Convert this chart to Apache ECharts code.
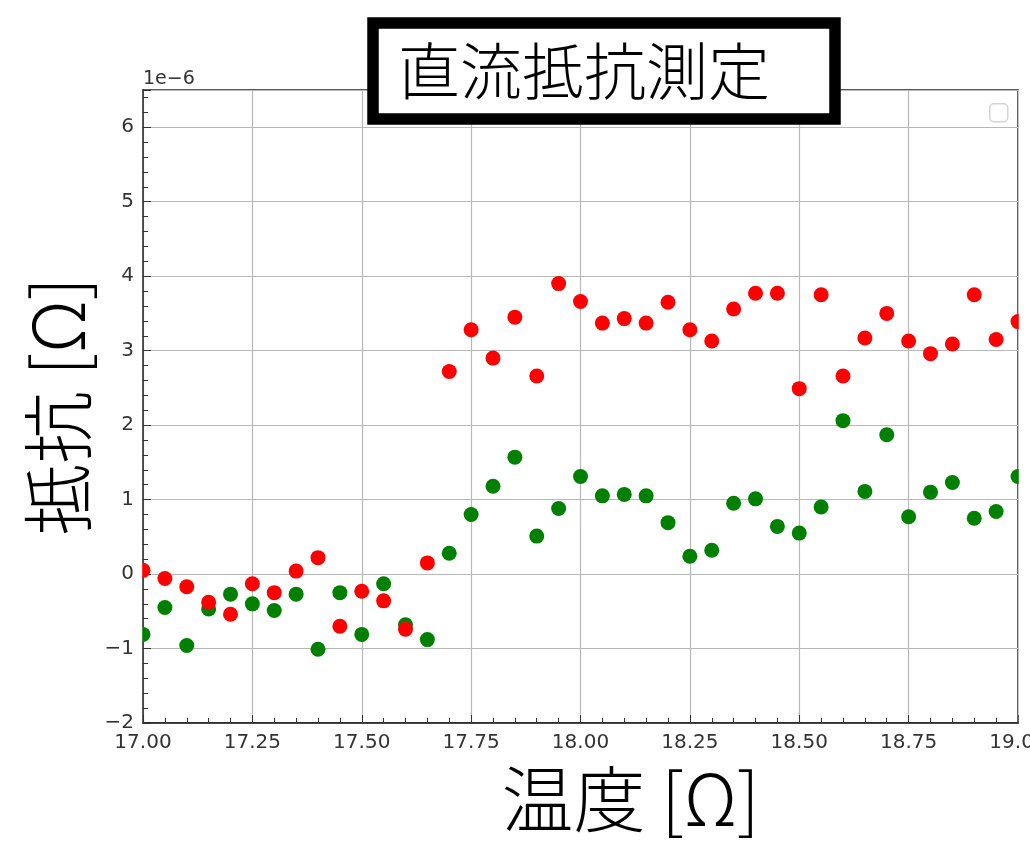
<!DOCTYPE html>
<html>
<head>
<meta charset="utf-8">
<script src="https://cdn.jsdelivr.net/npm/echarts@6/dist/echarts.min.js"></script>
<style>
  html, body { margin: 0; padding: 0; background: #fff; }
  #chart { width: 1030px; height: 846px; }
</style>
</head>
<body>
<div id="chart"></div>
<script>
// 温度 (x) と 抵抗 (y, 単位 1e-6)
var temps = [17.00, 17.05, 17.10, 17.15, 17.20, 17.25, 17.30, 17.35, 17.40, 17.45,
             17.50, 17.55, 17.60, 17.65, 17.70, 17.75, 17.80, 17.85, 17.90, 17.95,
             18.00, 18.05, 18.10, 18.15, 18.20, 18.25, 18.30, 18.35, 18.40, 18.45,
             18.50, 18.55, 18.60, 18.65, 18.70, 18.75, 18.80, 18.85, 18.90, 18.95,
             19.00];
var greenVals = [-0.81, -0.45, -0.96, -0.47, -0.27, -0.40, -0.49, -0.27, -1.01, -0.25,
                 -0.81, -0.13, -0.68, -0.88, 0.28, 0.80, 1.18, 1.57, 0.51, 0.88,
                 1.31, 1.05, 1.07, 1.05, 0.69, 0.24, 0.32, 0.95, 1.01, 0.64,
                 0.55, 0.90, 2.06, 1.11, 1.87, 0.77, 1.10, 1.23, 0.75, 0.84,
                 1.31];
var redVals = [0.05, -0.06, -0.17, -0.38, -0.54, -0.13, -0.25, 0.04, 0.22, -0.70,
               -0.23, -0.36, -0.74, 0.15, 2.72, 3.28, 2.90, 3.45, 2.66, 3.90,
               3.66, 3.37, 3.43, 3.37, 3.65, 3.28, 3.13, 3.56, 3.77, 3.77,
               2.49, 3.75, 2.66, 3.17, 3.50, 3.13, 2.96, 3.09, 3.75, 3.15,
               3.39];
var titleText = '直流抵抗測定';
var xName = '温度 [Ω]';
var yName = '抵抗 [Ω]';
var offsetText = '1e\u22126';

function pairs(xs, ys) {
    return xs.map(function (x, i) { return [x, ys[i]]; });
}

var cjk = '"Noto Sans CJK JP", "Noto Sans CJK SC", sans-serif';
var tickFont = '"DejaVu Sans", sans-serif';

// プロット領域 (px)
var gLeft = 143, gRight = 12, gTop = 90, gBottom = 123;

var chart = echarts.init(document.getElementById('chart'));
chart.setOption({
    animation: false,
    backgroundColor: '#fff',
    title: {
        text: titleText,
        left: 373,
        top: 23,
        padding: [17, 65, 17, 25],
        backgroundColor: '#fff',
        borderColor: '#000',
        borderWidth: 11.5,
        textStyle: {
            fontFamily: cjk,
            fontSize: 62,
            fontWeight: 300,
            color: '#000'
        },
        z: 10
    },
    grid: {
        left: gLeft,
        right: gRight,
        top: gTop,
        bottom: gBottom,
        outerBoundsMode: 'none',
        containLabel: false,
        show: true,
        borderColor: '#222',
        borderWidth: 1.5,
        backgroundColor: '#fff'
    },
    xAxis: {
        type: 'value',
        min: 17,
        max: 19,
        interval: 0.25,
        name: xName,
        nameLocation: 'middle',
        nameGap: 40,
        nameTextStyle: {
            fontFamily: cjk,
            fontSize: 72,
            fontWeight: 300,
            color: '#000',
            padding: [0, 0, 0, 100]
        },
        axisLine: { onZero: false, lineStyle: { color: '#222', width: 1.5 } },
        axisTick: { inside: true, length: 8, lineStyle: { color: '#333' } },
        minorTick: { show: true, splitNumber: 5, length: 5, lineStyle: { color: '#333' } },
        axisLabel: {
            margin: 10,
            fontFamily: tickFont,
            fontSize: 20,
            color: '#333',
            formatter: function (v) { return v.toFixed(2); }
        },
        splitLine: { show: true, lineStyle: { color: '#b8b8b8', width: 1.2 } }
    },
    yAxis: {
        type: 'value',
        min: -2,
        max: 6.5,
        interval: 1,
        name: yName,
        nameLocation: 'middle',
        nameGap: 25,
        nameTextStyle: {
            fontFamily: cjk,
            fontSize: 72,
            fontWeight: 300,
            color: '#000'
        },
        axisLine: { onZero: false, lineStyle: { color: '#222', width: 1.5 } },
        axisTick: { inside: true, length: 8, lineStyle: { color: '#333' } },
        minorTick: { show: true, splitNumber: 5, length: 5, lineStyle: { color: '#333' } },
        axisLabel: {
            margin: 9,
            fontFamily: tickFont,
            fontSize: 20,
            color: '#333',
            showMaxLabel: false,
            formatter: function (v) { return String(v).replace('-', '\u2212'); }
        },
        splitLine: { show: true, lineStyle: { color: '#b8b8b8', width: 1.2 } }
    },
    graphic: [
        {
            type: 'text',
            left: 143,
            top: 70,
            style: { text: offsetText, font: '19px "DejaVu Sans", sans-serif', fill: '#333' }
        },
        {
            // 軸の外にはみ出した点を隠す (左)
            type: 'rect',
            left: 134,
            top: gTop,
            shape: { width: 8.2, height: 846 - gTop - gBottom },
            style: { fill: '#fff' },
            z: 5
        },
        {
            // 軸の外にはみ出した点を隠す (右)
            type: 'rect',
            left: 1030 - gRight + 0.8,
            top: gTop,
            shape: { width: 11, height: 846 - gTop - gBottom },
            style: { fill: '#fff' },
            z: 5
        },
        {
            // 空の凡例
            type: 'rect',
            left: 989,
            top: 103,
            shape: { width: 18, height: 18, r: 4 },
            style: { fill: '#fff', stroke: '#d4d4d4', lineWidth: 1.5 },
            z: 20
        }
    ],
    series: [
        {
            type: 'scatter',
            data: pairs(temps, greenVals),
            symbolSize: 15,
            itemStyle: { color: '#008000', opacity: 1 },
            clip: true
        },
        {
            type: 'scatter',
            data: pairs(temps, redVals),
            symbolSize: 15,
            itemStyle: { color: '#ff0000', opacity: 1 },
            clip: true
        }
    ]
});
</script>
</body>
</html>
